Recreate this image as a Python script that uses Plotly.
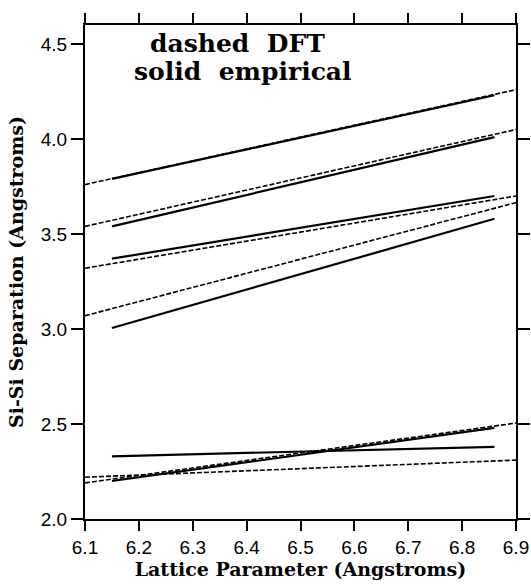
import plotly.graph_objects as go

# Lattice parameter endpoints (Angstroms)
dft_lattice = [6.1, 6.9]
emp_lattice = [6.15, 6.86]

# Si-Si separations at each endpoint (Angstroms), one pair per neighbour shell
dft_sep = [
    [3.76, 4.26],
    [3.54, 4.05],
    [3.32, 3.70],
    [3.07, 3.665],
    [2.22, 2.31],
    [2.19, 2.505],
]
emp_sep = [
    [3.79, 4.23],
    [3.54, 4.01],
    [3.37, 3.70],
    [3.005, 3.58],
    [2.33, 2.38],
    [2.20, 2.48],
]

x_ticks = [6.1, 6.2, 6.3, 6.4, 6.5, 6.6, 6.7, 6.8, 6.9]
y_ticks = [2.0, 2.5, 3.0, 3.5, 4.0, 4.5]

fig = go.Figure()

for ys in dft_sep:
    fig.add_trace(go.Scatter(
        x=dft_lattice, y=ys, mode="lines",
        line=dict(color="black", width=1.6, dash="5px,2px"),
        showlegend=False, hoverinfo="skip",
    ))

for ys in emp_sep:
    fig.add_trace(go.Scatter(
        x=emp_lattice, y=ys, mode="lines",
        line=dict(color="black", width=2.2),
        showlegend=False, hoverinfo="skip",
    ))

serif_bold = "DejaVu Serif"
tick_font = dict(family="Liberation Sans", size=19, color="black")

fig.add_annotation(
    text="<b>dashed  DFT</b>", xref="paper", yref="paper",
    x=0.353, y=0.962, showarrow=False, xanchor="center", yanchor="middle",
    font=dict(family=serif_bold, size=25, color="black"),
)
fig.add_annotation(
    text="<b>solid  empirical</b>", xref="paper", yref="paper",
    x=0.367, y=0.905, showarrow=False, xanchor="center", yanchor="middle",
    font=dict(family=serif_bold, size=25, color="black"),
)

fig.update_layout(
    width=531, height=584,
    margin=dict(l=85, r=15, t=25, b=65),
    paper_bgcolor="white", plot_bgcolor="white",
    xaxis=dict(
        range=[6.1, 6.9], tickvals=x_ticks, ticktext=[f"{v:.1f}" for v in x_ticks],
        ticks="outside", ticklen=10, tickwidth=2, tickcolor="black",
        showline=True, linecolor="black", linewidth=2, mirror="allticks",
        showgrid=False, zeroline=False, tickfont=tick_font, automargin=False,
        title=dict(text="<b>Lattice Parameter (Angstroms)</b>",
                   font=dict(family=serif_bold, size=19, color="black"), standoff=2),
    ),
    yaxis=dict(
        range=[2.0, 4.6], tickvals=y_ticks, ticktext=[f"{v:.1f}" for v in y_ticks],
        ticks="outside", ticklen=12, tickwidth=2, tickcolor="black",
        showline=True, linecolor="black", linewidth=2, mirror="allticks",
        showgrid=False, zeroline=False, tickfont=tick_font, automargin=False,
        title=dict(text="<b>Si-Si Separation (Angstroms)</b>",
                   font=dict(family=serif_bold, size=19, color="black"), standoff=12),
    ),
)

fig.write_html("out.html")
